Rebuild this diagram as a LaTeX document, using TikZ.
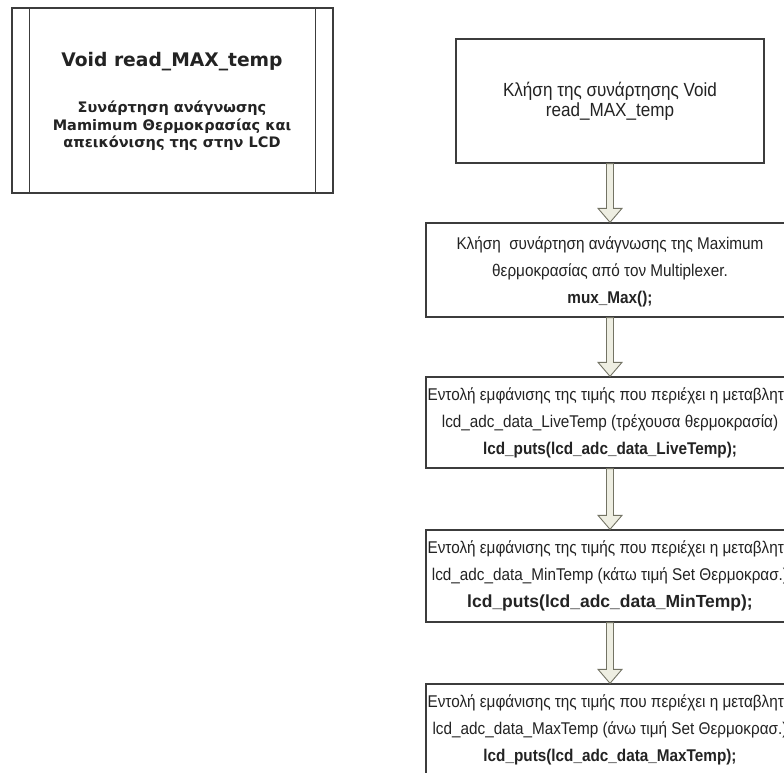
\documentclass[tikz,border=0pt]{standalone}
\usepackage{fontspec}
\setmainfont{Liberation Sans}
\newfontfamily\stepfont[FakeStretch=0.9]{Liberation Sans}
\newfontfamily\headfont{DejaVu Sans}
\usetikzlibrary{calc}
\definecolor{boxline}{RGB}{60,60,60}
\definecolor{arrowline}{RGB}{115,115,100}
\definecolor{arrowfill}{RGB}{238,238,226}
\definecolor{textgray}{RGB}{35,35,35}
\tikzset{
  frame/.style={draw=boxline, line width=1.3pt, rectangle, inner sep=0pt},
  stepbox/.style={frame, minimum width=368pt},
  steptext/.style={align=center, inner sep=0pt, text=textgray,
    font=\stepfont\fontsize{17}{27}\selectfont},
  flowarrow/.style={draw=arrowline, fill=arrowfill, line width=0.9pt, line join=miter},
}
% hollow block arrow from the bottom of #1 to the top of #2
\newcommand{\blockarrow}[2]{%
  \draw[flowarrow] ($(#1.south)+(-3.5,0)$) -- ($(#2.north)+(-3.5,-14)$)
    -- ($(#2.north)+(-12,-14)$) -- (#2.north) -- ($(#2.north)+(12,-14)$)
    -- ($(#2.north)+(3.5,-14)$) -- ($(#1.south)+(3.5,0)$) -- cycle;}
\begin{document}
\begin{tikzpicture}[x=1pt, y=-1pt]
  \useasboundingbox (0,0) rectangle (784,773);
  \clip (0,0) rectangle (784,773);
  \fill[white] (0,0) rectangle (784,773);

  % predefined-process symbol describing the routine
  \node[frame, minimum width=321pt, minimum height=185pt] (proc) at (172.5,100.5) {};
  \draw[boxline, line width=1.3pt] ($(proc.north west)+(18,0)$) -- ($(proc.south west)+(18,0)$);
  \draw[boxline, line width=1.3pt] ($(proc.north east)+(-18,0)$) -- ($(proc.south east)+(-18,0)$);
  \node[text=textgray, font=\headfont\bfseries\fontsize{18.7}{20}\selectfont] (title) at (172,62) {Void read\_MAX\_temp};
  \node[align=center, text=textgray, font=\headfont\bfseries\fontsize{14.5}{17.5}\selectfont] (desc) at (172,126)
    {Συνάρτηση ανάγνωσης\\Mamimum Θερμοκρασίας και\\απεικόνισης της στην LCD};

  % flow of the routine
  \node[frame, minimum width=308pt, minimum height=124pt] (b1) at (610,101) {};
  \node[steptext, font=\stepfont\fontsize{19}{20}\selectfont] (t1) at (b1.center) {Κλήση της συνάρτησης Void\\read\_MAX\_temp};

  \node[stepbox, minimum height=94pt] (b2) at (610,270) {};
  \node[steptext] (t2) at ($(b2.center)+(0,2)$)
    {Κλήση\ \ συνάρτηση ανάγνωσης της Maximum\\θερμοκρασίας από τον Multiplexer.\\\textbf{mux\_Max();}};

  \node[stepbox, minimum height=91pt] (b3) at (610,422.5) {};
  \node[steptext] (t3) at (b3.center)
    {Εντολή εμφάνισης της τιμής που περιέχει η μεταβλητή\\lcd\_adc\_data\_LiveTemp (τρέχουσα θερμοκρασία)\\\textbf{lcd\_puts(lcd\_adc\_data\_LiveTemp);}};

  \node[stepbox, minimum height=92pt] (b4) at (610,576) {};
  \node[steptext] (t4) at (b4.center)
    {Εντολή εμφάνισης της τιμής που περιέχει η μεταβλητή\\lcd\_adc\_data\_MinTemp (κάτω τιμή Set Θερμοκρασ.)\\{\rmfamily\bfseries\fontsize{17.5}{27}\selectfont lcd\_puts(lcd\_adc\_data\_MinTemp);}};

  \node[stepbox, minimum height=92pt] (b5) at (610,730) {};
  \node[steptext] (t5) at (b5.center)
    {Εντολή εμφάνισης της τιμής που περιέχει η μεταβλητή\\lcd\_adc\_data\_MaxTemp (άνω τιμή Set Θερμοκρασ.)\\\textbf{lcd\_puts(lcd\_adc\_data\_MaxTemp);}};

  \blockarrow{b1}{b2}
  \blockarrow{b2}{b3}
  \blockarrow{b3}{b4}
  \blockarrow{b4}{b5}
\end{tikzpicture}
\end{document}
